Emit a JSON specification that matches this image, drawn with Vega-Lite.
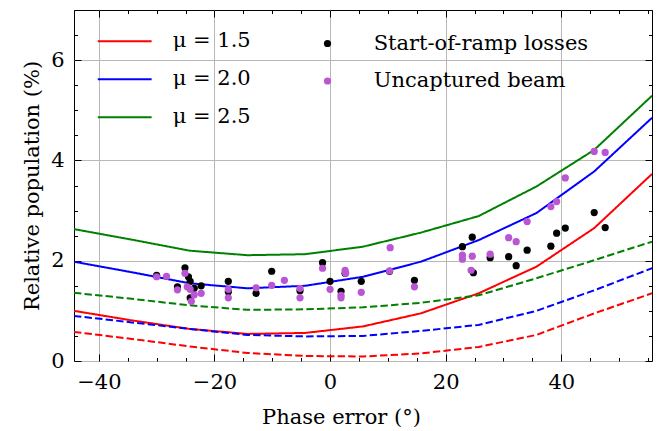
{
  "$schema": "https://vega.github.io/schema/vega-lite/v6.json",
  "width": 578,
  "height": 351,
  "autosize": {"type": "none"},
  "padding": {"left": 74, "top": 10, "right": 20, "bottom": 70},
  "config": {
    "view": {"stroke": "black", "strokeWidth": 1},
    "font": "DejaVu Serif",
    "axis": {
      "labelFont": "DejaVu Serif",
      "titleFont": "DejaVu Serif",
      "labelFontSize": 21,
      "titleFontSize": 21,
      "titleFontWeight": "normal",
      "labelColor": "black",
      "titleColor": "black",
      "tickColor": "black",
      "tickWidth": 1,
      "gridColor": "#b8b8b8",
      "gridWidth": 1,
      "domain": false,
      "labelFlush": false,
      "labelOverlap": false
    },
    "legend": {
      "labelFont": "DejaVu Serif",
      "labelFontSize": 21,
      "labelColor": "black",
      "labelLimit": 0,
      "padding": 0
    }
  },
  "datasets": {
    "curves": [
      {"x": -44.3, "y": 1.0, "mu": "μ = 1.5", "kind": "solid"},
      {"x": -34.3, "y": 0.81, "mu": "μ = 1.5", "kind": "solid"},
      {"x": -24.3, "y": 0.64, "mu": "μ = 1.5", "kind": "solid"},
      {"x": -14.3, "y": 0.54, "mu": "μ = 1.5", "kind": "solid"},
      {"x": -4.3, "y": 0.56, "mu": "μ = 1.5", "kind": "solid"},
      {"x": 5.7, "y": 0.69, "mu": "μ = 1.5", "kind": "solid"},
      {"x": 15.7, "y": 0.95, "mu": "μ = 1.5", "kind": "solid"},
      {"x": 25.7, "y": 1.35, "mu": "μ = 1.5", "kind": "solid"},
      {"x": 35.7, "y": 1.88, "mu": "μ = 1.5", "kind": "solid"},
      {"x": 45.7, "y": 2.65, "mu": "μ = 1.5", "kind": "solid"},
      {"x": 55.7, "y": 3.73, "mu": "μ = 1.5", "kind": "solid"},
      {"x": -44.3, "y": 0.58, "mu": "μ = 1.5", "kind": "dashed"},
      {"x": -34.3, "y": 0.44, "mu": "μ = 1.5", "kind": "dashed"},
      {"x": -24.3, "y": 0.29, "mu": "μ = 1.5", "kind": "dashed"},
      {"x": -14.3, "y": 0.16, "mu": "μ = 1.5", "kind": "dashed"},
      {"x": -4.3, "y": 0.1, "mu": "μ = 1.5", "kind": "dashed"},
      {"x": 5.7, "y": 0.09, "mu": "μ = 1.5", "kind": "dashed"},
      {"x": 15.7, "y": 0.15, "mu": "μ = 1.5", "kind": "dashed"},
      {"x": 25.7, "y": 0.28, "mu": "μ = 1.5", "kind": "dashed"},
      {"x": 35.7, "y": 0.52, "mu": "μ = 1.5", "kind": "dashed"},
      {"x": 45.7, "y": 0.95, "mu": "μ = 1.5", "kind": "dashed"},
      {"x": 55.7, "y": 1.35, "mu": "μ = 1.5", "kind": "dashed"},
      {"x": -44.3, "y": 1.98, "mu": "μ = 2.0", "kind": "solid"},
      {"x": -34.3, "y": 1.77, "mu": "μ = 2.0", "kind": "solid"},
      {"x": -24.3, "y": 1.55, "mu": "μ = 2.0", "kind": "solid"},
      {"x": -14.3, "y": 1.45, "mu": "μ = 2.0", "kind": "solid"},
      {"x": -4.3, "y": 1.5, "mu": "μ = 2.0", "kind": "solid"},
      {"x": 5.7, "y": 1.68, "mu": "μ = 2.0", "kind": "solid"},
      {"x": 15.7, "y": 1.98, "mu": "μ = 2.0", "kind": "solid"},
      {"x": 25.7, "y": 2.41, "mu": "μ = 2.0", "kind": "solid"},
      {"x": 35.7, "y": 2.95, "mu": "μ = 2.0", "kind": "solid"},
      {"x": 45.7, "y": 3.78, "mu": "μ = 2.0", "kind": "solid"},
      {"x": 55.7, "y": 4.85, "mu": "μ = 2.0", "kind": "solid"},
      {"x": -44.3, "y": 0.9, "mu": "μ = 2.0", "kind": "dashed"},
      {"x": -34.3, "y": 0.77, "mu": "μ = 2.0", "kind": "dashed"},
      {"x": -24.3, "y": 0.64, "mu": "μ = 2.0", "kind": "dashed"},
      {"x": -14.3, "y": 0.52, "mu": "μ = 2.0", "kind": "dashed"},
      {"x": -4.3, "y": 0.49, "mu": "μ = 2.0", "kind": "dashed"},
      {"x": 5.7, "y": 0.5, "mu": "μ = 2.0", "kind": "dashed"},
      {"x": 15.7, "y": 0.6, "mu": "μ = 2.0", "kind": "dashed"},
      {"x": 25.7, "y": 0.72, "mu": "μ = 2.0", "kind": "dashed"},
      {"x": 35.7, "y": 1.0, "mu": "μ = 2.0", "kind": "dashed"},
      {"x": 45.7, "y": 1.41, "mu": "μ = 2.0", "kind": "dashed"},
      {"x": 55.7, "y": 1.85, "mu": "μ = 2.0", "kind": "dashed"},
      {"x": -44.3, "y": 2.63, "mu": "μ = 2.5", "kind": "solid"},
      {"x": -34.3, "y": 2.42, "mu": "μ = 2.5", "kind": "solid"},
      {"x": -24.3, "y": 2.2, "mu": "μ = 2.5", "kind": "solid"},
      {"x": -14.3, "y": 2.11, "mu": "μ = 2.5", "kind": "solid"},
      {"x": -4.3, "y": 2.13, "mu": "μ = 2.5", "kind": "solid"},
      {"x": 5.7, "y": 2.28, "mu": "μ = 2.5", "kind": "solid"},
      {"x": 15.7, "y": 2.56, "mu": "μ = 2.5", "kind": "solid"},
      {"x": 25.7, "y": 2.89, "mu": "μ = 2.5", "kind": "solid"},
      {"x": 35.7, "y": 3.48, "mu": "μ = 2.5", "kind": "solid"},
      {"x": 45.7, "y": 4.21, "mu": "μ = 2.5", "kind": "solid"},
      {"x": 55.7, "y": 5.29, "mu": "μ = 2.5", "kind": "solid"},
      {"x": -44.3, "y": 1.36, "mu": "μ = 2.5", "kind": "dashed"},
      {"x": -34.3, "y": 1.24, "mu": "μ = 2.5", "kind": "dashed"},
      {"x": -24.3, "y": 1.11, "mu": "μ = 2.5", "kind": "dashed"},
      {"x": -14.3, "y": 1.02, "mu": "μ = 2.5", "kind": "dashed"},
      {"x": -4.3, "y": 1.03, "mu": "μ = 2.5", "kind": "dashed"},
      {"x": 5.7, "y": 1.07, "mu": "μ = 2.5", "kind": "dashed"},
      {"x": 15.7, "y": 1.16, "mu": "μ = 2.5", "kind": "dashed"},
      {"x": 25.7, "y": 1.31, "mu": "μ = 2.5", "kind": "dashed"},
      {"x": 35.7, "y": 1.65, "mu": "μ = 2.5", "kind": "dashed"},
      {"x": 45.7, "y": 2.01, "mu": "μ = 2.5", "kind": "dashed"},
      {"x": 55.7, "y": 2.38, "mu": "μ = 2.5", "kind": "dashed"}
    ],
    "beam": [
      {"x": -30.0, "y": 1.71, "series": "Start-of-ramp losses"},
      {"x": -26.4, "y": 1.48, "series": "Start-of-ramp losses"},
      {"x": -25.1, "y": 1.86, "series": "Start-of-ramp losses"},
      {"x": -24.5, "y": 1.68, "series": "Start-of-ramp losses"},
      {"x": -24.2, "y": 1.59, "series": "Start-of-ramp losses"},
      {"x": -24.2, "y": 1.26, "series": "Start-of-ramp losses"},
      {"x": -23.5, "y": 1.45, "series": "Start-of-ramp losses"},
      {"x": -22.3, "y": 1.5, "series": "Start-of-ramp losses"},
      {"x": -17.6, "y": 1.59, "series": "Start-of-ramp losses"},
      {"x": -17.6, "y": 1.38, "series": "Start-of-ramp losses"},
      {"x": -12.8, "y": 1.35, "series": "Start-of-ramp losses"},
      {"x": -10.1, "y": 1.79, "series": "Start-of-ramp losses"},
      {"x": -5.2, "y": 1.4, "series": "Start-of-ramp losses"},
      {"x": -1.3, "y": 1.96, "series": "Start-of-ramp losses"},
      {"x": 0.0, "y": 1.59, "series": "Start-of-ramp losses"},
      {"x": 1.9, "y": 1.39, "series": "Start-of-ramp losses"},
      {"x": 2.6, "y": 1.75, "series": "Start-of-ramp losses"},
      {"x": 5.4, "y": 1.59, "series": "Start-of-ramp losses"},
      {"x": 10.3, "y": 1.79, "series": "Start-of-ramp losses"},
      {"x": 14.6, "y": 1.61, "series": "Start-of-ramp losses"},
      {"x": 22.9, "y": 2.28, "series": "Start-of-ramp losses"},
      {"x": 24.6, "y": 2.47, "series": "Start-of-ramp losses"},
      {"x": 24.8, "y": 1.76, "series": "Start-of-ramp losses"},
      {"x": 27.7, "y": 2.06, "series": "Start-of-ramp losses"},
      {"x": 30.9, "y": 2.08, "series": "Start-of-ramp losses"},
      {"x": 32.2, "y": 1.9, "series": "Start-of-ramp losses"},
      {"x": 34.1, "y": 2.21, "series": "Start-of-ramp losses"},
      {"x": 38.2, "y": 2.29, "series": "Start-of-ramp losses"},
      {"x": 39.2, "y": 2.55, "series": "Start-of-ramp losses"},
      {"x": 40.7, "y": 2.65, "series": "Start-of-ramp losses"},
      {"x": 45.7, "y": 2.96, "series": "Start-of-ramp losses"},
      {"x": 47.6, "y": 2.66, "series": "Start-of-ramp losses"},
      {"x": -30.0, "y": 1.68, "series": "Uncaptured beam"},
      {"x": -28.3, "y": 1.69, "series": "Uncaptured beam"},
      {"x": -26.4, "y": 1.42, "series": "Uncaptured beam"},
      {"x": -25.1, "y": 1.75, "series": "Uncaptured beam"},
      {"x": -24.7, "y": 1.48, "series": "Uncaptured beam"},
      {"x": -24.2, "y": 1.43, "series": "Uncaptured beam"},
      {"x": -24.0, "y": 1.19, "series": "Uncaptured beam"},
      {"x": -23.5, "y": 1.32, "series": "Uncaptured beam"},
      {"x": -22.3, "y": 1.35, "series": "Uncaptured beam"},
      {"x": -17.6, "y": 1.43, "series": "Uncaptured beam"},
      {"x": -17.6, "y": 1.26, "series": "Uncaptured beam"},
      {"x": -12.8, "y": 1.46, "series": "Uncaptured beam"},
      {"x": -10.1, "y": 1.51, "series": "Uncaptured beam"},
      {"x": -7.9, "y": 1.61, "series": "Uncaptured beam"},
      {"x": -5.2, "y": 1.45, "series": "Uncaptured beam"},
      {"x": -5.2, "y": 1.26, "series": "Uncaptured beam"},
      {"x": -1.3, "y": 1.85, "series": "Uncaptured beam"},
      {"x": 0.0, "y": 1.43, "series": "Uncaptured beam"},
      {"x": 1.9, "y": 1.31, "series": "Uncaptured beam"},
      {"x": 1.9, "y": 1.26, "series": "Uncaptured beam"},
      {"x": 2.6, "y": 1.81, "series": "Uncaptured beam"},
      {"x": 2.7, "y": 1.75, "series": "Uncaptured beam"},
      {"x": 5.4, "y": 1.37, "series": "Uncaptured beam"},
      {"x": 10.4, "y": 2.26, "series": "Uncaptured beam"},
      {"x": 10.3, "y": 1.8, "series": "Uncaptured beam"},
      {"x": 14.6, "y": 1.48, "series": "Uncaptured beam"},
      {"x": 22.9, "y": 2.11, "series": "Uncaptured beam"},
      {"x": 22.9, "y": 2.03, "series": "Uncaptured beam"},
      {"x": 24.6, "y": 2.09, "series": "Uncaptured beam"},
      {"x": 24.4, "y": 1.81, "series": "Uncaptured beam"},
      {"x": 27.7, "y": 2.13, "series": "Uncaptured beam"},
      {"x": 30.9, "y": 2.46, "series": "Uncaptured beam"},
      {"x": 32.2, "y": 2.38, "series": "Uncaptured beam"},
      {"x": 34.1, "y": 2.78, "series": "Uncaptured beam"},
      {"x": 38.2, "y": 3.08, "series": "Uncaptured beam"},
      {"x": 39.2, "y": 3.18, "series": "Uncaptured beam"},
      {"x": 40.7, "y": 3.65, "series": "Uncaptured beam"},
      {"x": 45.7, "y": 4.18, "series": "Uncaptured beam"},
      {"x": 47.6, "y": 4.16, "series": "Uncaptured beam"}
    ]
  },
  "layer": [
    {
      "data": {"name": "curves"},
      "mark": {"type": "line", "strokeWidth": 2, "clip": true},
      "encoding": {
        "x": {
          "field": "x",
          "type": "quantitative",
          "scale": {"domain": [-44.3, 55.7], "nice": false, "zero": false},
          "axis": {
            "orient": "bottom",
            "title": "Phase error (°)",
            "titleX": 267,
            "titleAlign": "center",
            "values": [-40, -35, -30, -25, -20, -15, -10, -5, 0, 5, 10, 15, 20, 25, 30, 35, 40, 45, 50, 55],
            "labelExpr": "datum.value % 20 === 0 ? datum.label : ''",
            "grid": true,
            "gridOpacity": {"condition": {"test": "datum.value % 20 === 0", "value": 1}, "value": 0},
            "tickSize": {"condition": {"test": "datum.value % 20 === 0", "value": -7}, "value": -3.5},
            "labelPadding": 17,
            "titlePadding": 11
          }
        },
        "y": {
          "field": "y",
          "type": "quantitative",
          "scale": {"domain": [0, 7], "nice": false, "zero": false},
          "axis": {
            "orient": "left",
            "title": "Relative population (%)",
            "values": [0, 0.5, 1, 1.5, 2, 2.5, 3, 3.5, 4, 4.5, 5, 5.5, 6, 6.5, 7],
            "labelExpr": "datum.value % 2 === 0 ? format(datum.value, 'd') : ''",
            "grid": true,
            "gridOpacity": {"condition": {"test": "datum.value % 2 === 0", "value": 1}, "value": 0},
            "tickSize": {"condition": {"test": "datum.value % 2 === 0", "value": -7}, "value": -3.5},
            "labelPadding": 17,
            "titlePadding": 8
          }
        },
        "stroke": {
          "field": "mu",
          "type": "nominal",
          "scale": {"domain": ["μ = 1.5", "μ = 2.0", "μ = 2.5"], "range": ["#ff0000", "#0000ff", "#008000"]},
          "legend": {
            "orient": "none",
            "legendX": 22.7,
            "legendY": 3.3,
            "title": null,
            "symbolType": "stroke",
            "symbolSize": 2900,
            "symbolStrokeWidth": 2,
            "labelOffset": 20,
            "rowPadding": -2
          }
        },
        "strokeDash": {
          "field": "kind",
          "type": "nominal",
          "scale": {"domain": ["solid", "dashed"], "range": [[1, 0], [7.4, 3.2]]},
          "legend": null
        }
      }
    },
    {
      "data": {"name": "beam"},
      "mark": {"type": "circle", "size": 52, "opacity": 1},
      "encoding": {
        "x": {
          "field": "x",
          "type": "quantitative",
          "axis": {
            "orient": "top",
            "title": null,
            "labels": false,
            "grid": false,
            "values": [-40, -35, -30, -25, -20, -15, -10, -5, 0, 5, 10, 15, 20, 25, 30, 35, 40, 45, 50, 55],
            "tickSize": {"condition": {"test": "datum.value % 20 === 0", "value": -7}, "value": -3.5}
          }
        },
        "y": {
          "field": "y",
          "type": "quantitative",
          "axis": {
            "orient": "right",
            "title": null,
            "labels": false,
            "grid": false,
            "values": [0, 0.5, 1, 1.5, 2, 2.5, 3, 3.5, 4, 4.5, 5, 5.5, 6, 6.5, 7],
            "tickSize": {"condition": {"test": "datum.value % 2 === 0", "value": -7}, "value": -3.5}
          }
        },
        "fill": {
          "field": "series",
          "type": "nominal",
          "scale": {"domain": ["Start-of-ramp losses", "Uncaptured beam"], "range": ["#000000", "#ba55d3"]},
          "legend": {
            "orient": "none",
            "legendX": 243,
            "legendY": 23,
            "title": null,
            "symbolType": "circle",
            "symbolSize": 52,
            "symbolStrokeWidth": 0,
            "labelOffset": 35.7,
            "rowPadding": 15.5
          }
        }
      }
    }
  ],
  "resolve": {"axis": {"x": "independent", "y": "independent"}}
}
